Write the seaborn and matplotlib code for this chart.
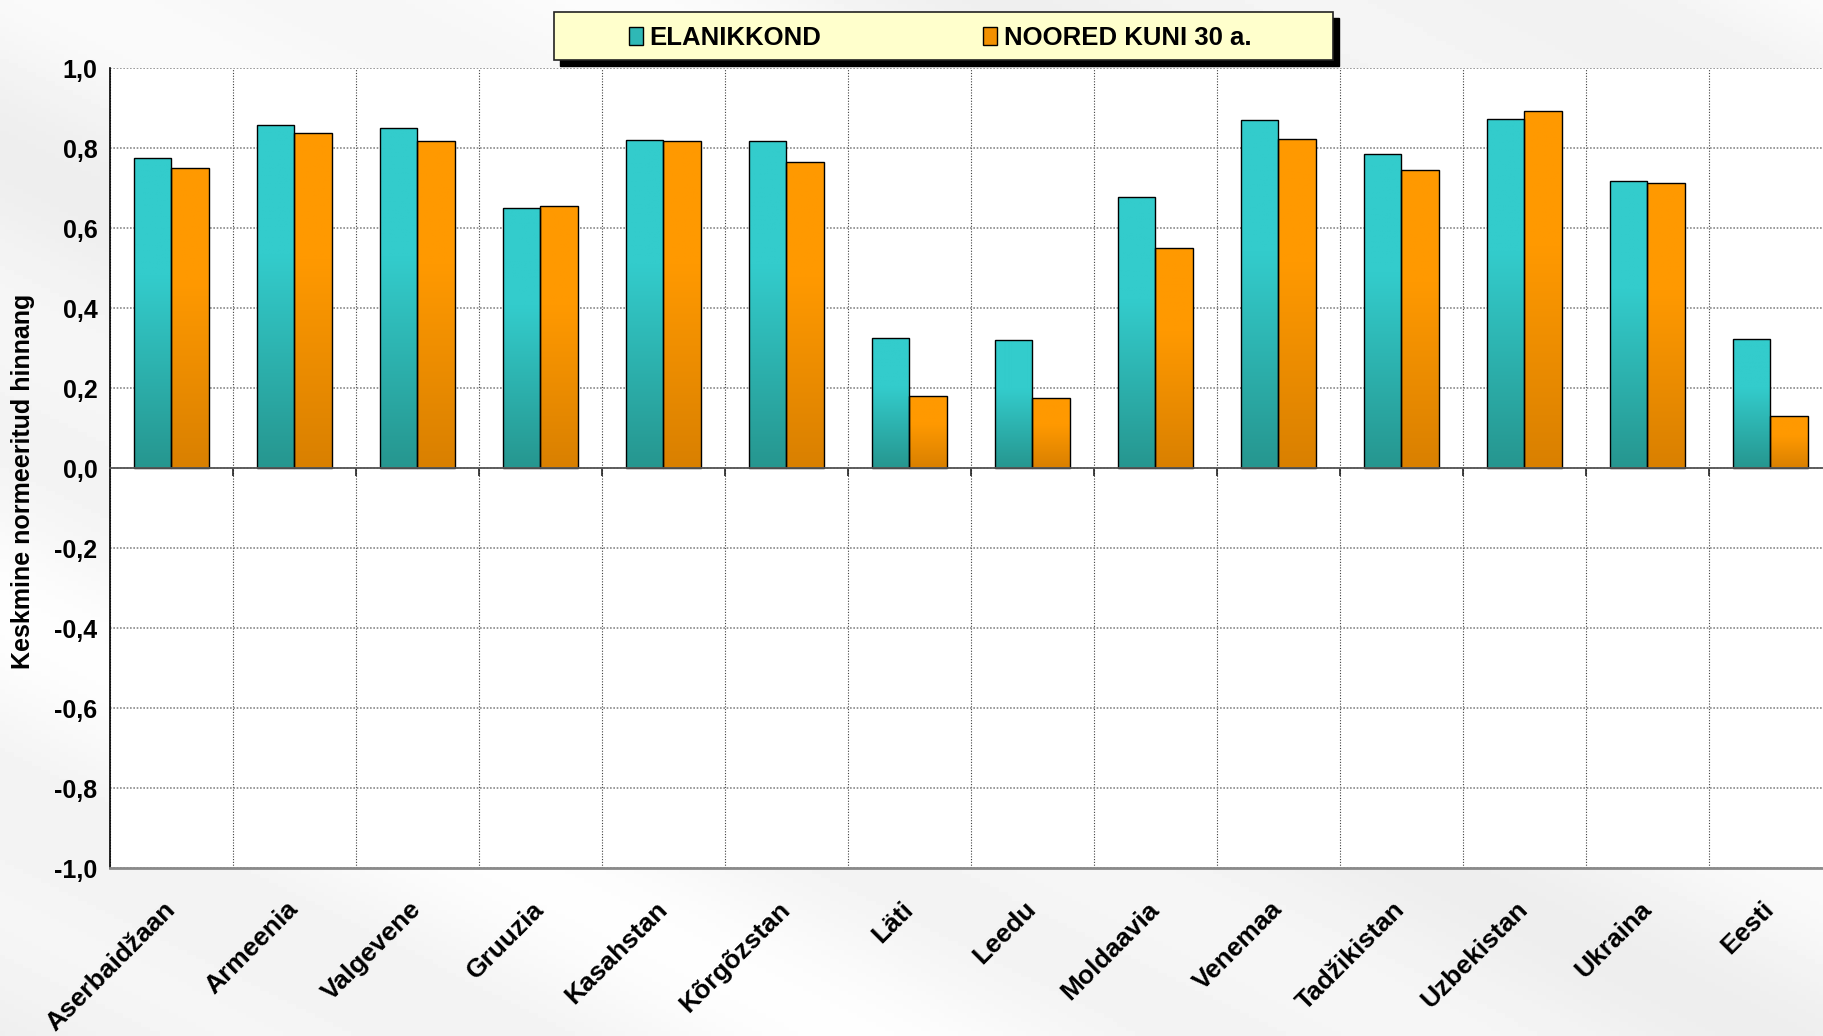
import numpy as np
import pandas as pd
import matplotlib
matplotlib.use("Agg")
import matplotlib.pyplot as plt
import matplotlib.transforms as mtransforms
import seaborn as sns
from matplotlib.colors import LinearSegmentedColormap
from matplotlib.patches import Rectangle, Patch

# data
countries = ["Aserbaidžaan", "Armeenia", "Valgevene", "Gruuzia", "Kasahstan",
             "Kõrgõzstan", "Läti", "Leedu", "Moldaavia", "Venemaa",
             "Tadžikistan", "Uzbekistan", "Ukraina", "Eesti"]
elanikkond = [0.775, 0.858, 0.849, 0.651, 0.820, 0.817, 0.326, 0.320,
              0.677, 0.869, 0.785, 0.872, 0.718, 0.323]
noored = [0.751, 0.837, 0.817, 0.654, 0.817, 0.765, 0.180, 0.174,
          0.549, 0.823, 0.744, 0.892, 0.712, 0.130]
series = ["ELANIKKOND", "NOORED KUNI 30 a."]
y_ticks = [-1.0, -0.8, -0.6, -0.4, -0.2, 0.0, 0.2, 0.4, 0.6, 0.8, 1.0]
y_tick_labels = ["-1,0", "-0,8", "-0,6", "-0,4", "-0,2", "0,0",
                 "0,2", "0,4", "0,6", "0,8", "1,0"]
y_label = "Keskmine normeeritud hinnang"

df = pd.DataFrame({
    "riik": countries * 2,
    "grupp": [series[0]] * len(countries) + [series[1]] * len(countries),
    "hinnang": elanikkond + noored,
})

teal_top, teal_bot = "#33CCCC", "#26968F"
orange_top, orange_bot = "#FF9900", "#D98000"

sns.set_style("white")
plt.rcParams["font.family"] = ["Liberation Sans", "DejaVu Sans"]
plt.rcParams["font.weight"] = "bold"
plt.rcParams["text.color"] = "black"
plt.rcParams["axes.labelcolor"] = "black"
plt.rcParams["xtick.color"] = "black"
plt.rcParams["ytick.color"] = "black"

fig = plt.figure(figsize=(18.24, 10.36), dpi=100, facecolor="#f6f6f6")

# soft diagonal streaks in the background
bg = fig.add_axes([0, 0, 1, 1], zorder=-10)
gx, gy = np.meshgrid(np.linspace(0, 1.76, 400), np.linspace(0, 1, 230))
u = gx * 0.45 - gy * 0.9
tex = 0.962 + 0.018 * np.sin(u * 9.0) + 0.014 * np.sin(u * 23.0 + 1.3)
bg.imshow(tex, cmap="gray", vmin=0, vmax=1, aspect="auto",
          extent=[0, 1, 0, 1], origin="upper")
bg.axis("off")

# plot area runs a little past the right edge, as in the reference
ax = fig.add_axes([110 / 1824, 1 - 868 / 1036, 1722 / 1824, 800 / 1036])
ax.set_facecolor("white")

sns.barplot(data=df, x="riik", y="hinnang", hue="grupp", order=countries,
            hue_order=series, palette=[teal_top, orange_top], width=0.605,
            gap=0, edgecolor="black", linewidth=1, legend=False, ax=ax,
            zorder=3)

# vertical gradient fill inside each bar
grads = [(teal_bot, teal_top), (orange_bot, orange_top)]
ramp = np.linspace(0, 1, 256).reshape(-1, 1)
for cont, (c0, c1) in zip(ax.containers, grads):
    cmap = LinearSegmentedColormap.from_list("g", [(0, c0), (0.62, c1), (1, c1)])
    for bar in cont:
        x0, y0 = bar.get_x(), bar.get_y()
        w, h = bar.get_width(), bar.get_height()
        img = ax.imshow(ramp, extent=[x0, x0 + w, y0, y0 + h], origin="lower",
                        aspect="auto", cmap=cmap, zorder=2.9)
        img.set_clip_path(bar)
        bar.set_facecolor("none")

ax.set_xlim(-0.5, len(countries) - 0.5)
ax.set_ylim(-1, 1)
ax.set_aspect("auto")

ax.set_yticks(y_ticks)
ax.set_yticklabels(y_tick_labels, fontsize=18, fontweight="bold")
ax.set_xticks(range(len(countries)))
ax.set_xticklabels(countries, rotation=45, ha="right", va="center",
                   rotation_mode="anchor", fontsize=19, fontweight="bold")
ax.set_xticks(np.arange(-0.5, len(countries), 1), minor=True)
shift = mtransforms.ScaledTranslation(10 / 100, 0, fig.dpi_scale_trans)
for lab in ax.get_xticklabels():
    lab.set_transform(lab.get_transform() + shift)

ax.set_axisbelow(True)
ax.yaxis.grid(True, color="#8a8a8a", linestyle=(0, (1, 1)), linewidth=1.2)
ax.xaxis.grid(True, which="minor", color="#404040", linestyle=(0, (1, 1.5)),
              linewidth=0.8)
ax.xaxis.grid(False, which="major")

ax.tick_params(axis="y", direction="out", length=7, width=1, color="black",
               pad=2, labelcolor="black")
ax.tick_params(axis="x", which="major", length=0, pad=27, labelcolor="black")
ax.tick_params(axis="x", which="minor", length=0)

ax.spines["left"].set_color("black")
ax.spines["left"].set_linewidth(1.2)
ax.spines["bottom"].set_color("#8a8a8a")
ax.spines["bottom"].set_linewidth(2)
ax.spines["top"].set_visible(False)
ax.spines["right"].set_visible(False)

# category axis crossing at zero
zero = ax.secondary_xaxis(0.4999)
zero.set_zorder(4)
zero.set_xticks(np.arange(-0.5, len(countries), 1), labels=[])
zero.tick_params(direction="out", length=6, width=1.2, color="#222222")
for s in zero.spines.values():
    s.set_color("#555555")
    s.set_linewidth(1.3)

ax.set_xlabel("")
ax.set_ylabel(y_label, fontsize=18, fontweight="bold", color="black")
ax.yaxis.set_label_coords(-0.0437, 0.483)

# legend box with solid shadow
fig.patches.append(Rectangle((560 / 1824, 1 - 66 / 1036), 779 / 1824, 48 / 1036,
                             transform=fig.transFigure, facecolor="black",
                             edgecolor="black", zorder=5))
fig.patches.append(Rectangle((554 / 1824, 1 - 60 / 1036), 779 / 1824, 48 / 1036,
                             transform=fig.transFigure, facecolor="#FFFFCC",
                             edgecolor="#222222", linewidth=1.2, zorder=6))
handles = [Patch(facecolor="#2fb8b6", edgecolor="black", linewidth=1),
           Patch(facecolor="#f29100", edgecolor="black", linewidth=1)]
leg = fig.legend(handles, series, ncol=2, frameon=False, loc="center left",
                 bbox_to_anchor=(629 / 1824, 1 - 38 / 1036), borderpad=0,
                 borderaxespad=0, handlelength=0.55, handleheight=0.7,
                 handletextpad=0.25, columnspacing=6.3,
                 prop={"size": 18.5, "weight": "bold"})
leg.set_zorder(7)

fig.savefig("out.png", dpi=100, facecolor=fig.get_facecolor())
